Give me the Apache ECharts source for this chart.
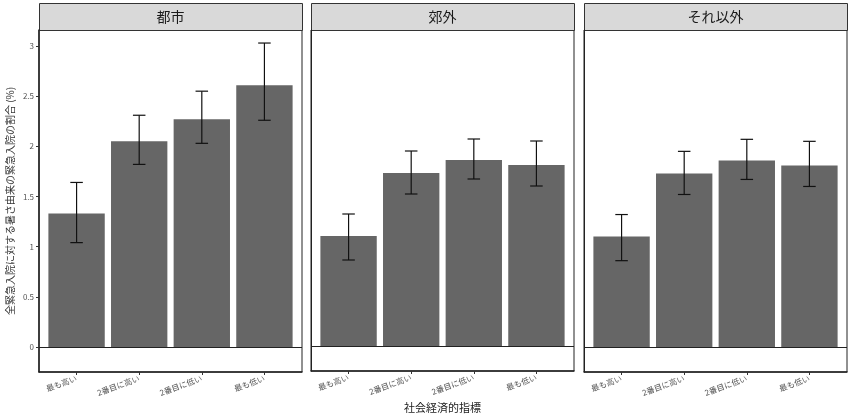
<html>
<head>
  <meta charset="utf-8">
  <title>heat admissions</title>
  <script src="https://cdn.jsdelivr.net/npm/echarts@6/dist/echarts.min.js"></script>
  <style>
    html, body { margin: 0; width: 100%; height: 100%; background: #fff; }
    #chart { width: 849px; height: 418px; }
  </style>
</head>
<body>
  <div id="chart"></div>
  <script>
    var categories = ['最も高い', '2番目に高い', '2番目に低い', '最も低い'];
    var panelNames = ['都市', '郊外', 'それ以外'];
    var yTicks = [0, 0.5, 1, 1.5, 2, 2.5, 3];

    // bar heights and 95% CI per panel
    var urbanVals = [1.33, 2.05, 2.27, 2.61];
    var urbanLow = [1.04, 1.82, 2.03, 2.26];
    var urbanHigh = [1.64, 2.31, 2.55, 3.03];
    var suburbVals = [1.10, 1.73, 1.86, 1.81];
    var suburbLow = [0.86, 1.52, 1.67, 1.60];
    var suburbHigh = [1.32, 1.95, 2.07, 2.05];
    var otherVals = [1.10, 1.73, 1.86, 1.81];
    var otherLow = [0.86, 1.52, 1.67, 1.60];
    var otherHigh = [1.32, 1.95, 2.07, 2.05];

    var vals = [urbanVals, suburbVals, otherVals];
    var lows = [urbanLow, suburbLow, otherLow];
    var highs = [urbanHigh, suburbHigh, otherHigh];

    var font = '"Noto Sans CJK JP", "Noto Sans", sans-serif';
    var panelLefts = [39, 311, 584];
    var panelW = 263, panelTop = 30, panelH = 342;

    var myChart = echarts.init(document.getElementById('chart'));

    var grids = [], xAxes = [], yAxes = [], series = [], graphics = [];
    var tickIdx = categories.map(function (c, i) { return i; });

    panelLefts.forEach(function (left, p) {
      grids.push({
        left: left, top: panelTop, width: panelW, height: panelH,
        show: true, borderColor: '#222', borderWidth: 1, backgroundColor: '#fff'
      });
      xAxes.push({
        type: 'value', gridIndex: p, min: -0.6, max: 3.6,
        splitLine: { show: false },
        axisLine: { show: true, onZero: false, lineStyle: { color: '#222', width: 1.5 } },
        axisTick: { show: true, customValues: tickIdx, length: 3, lineStyle: { color: '#333' } },
        axisLabel: {
          customValues: tickIdx, rotate: 20, margin: 6, fontSize: 8, color: '#555', fontFamily: font,
          formatter: function (v) { return categories[Math.round(v)]; }
        },
        name: p === 1 ? '社会経済的指標' : '',
        nameLocation: 'middle', nameGap: 31,
        nameTextStyle: { fontSize: 11, color: '#222', fontFamily: font }
      });
      yAxes.push({
        type: 'value', gridIndex: p, min: -0.25, max: 3.16,
        splitLine: { show: false },
        axisLine: { show: true, onZero: false, lineStyle: { color: '#222', width: p === 0 ? 1.5 : 1 } },
        axisTick: { show: p === 0, customValues: yTicks, length: 3, lineStyle: { color: '#333' } },
        axisLabel: {
          show: p === 0, customValues: yTicks, fontSize: 8, color: '#555', margin: 5, fontFamily: font
        },
        name: p === 0 ? '全緊急入院に対する暑さ由来の緊急入院の割合 (%)' : '',
        nameLocation: 'middle', nameRotate: 90, nameGap: 24,
        nameTextStyle: { fontSize: 10, color: '#333', fontFamily: font }
      });
      series.push({
        type: 'bar', xAxisIndex: p, yAxisIndex: p,
        barWidth: '90%',
        itemStyle: { color: '#666666' },
        data: vals[p].map(function (v, i) { return [i, v]; }),
        silent: true,
        markLine: {
          silent: true, symbol: 'none', label: { show: false },
          lineStyle: { color: '#222', width: 1, type: 'solid' },
          data: [{ yAxis: 0 }]
        }
      });
      series.push({
        type: 'custom', xAxisIndex: p, yAxisIndex: p, silent: true, z: 5,
        data: lows[p].map(function (lo, i) { return [i, lo, highs[p][i]]; }),
        renderItem: function (params, api) {
          var x = api.value(0);
          var a = api.coord([x, api.value(1)]);
          var b = api.coord([x, api.value(2)]);
          var hw = api.size([0.1, 0])[0];
          var st = { stroke: '#111', lineWidth: 1.2 };
          return {
            type: 'group',
            children: [
              { type: 'line', shape: { x1: a[0], y1: a[1], x2: b[0], y2: b[1] }, style: st },
              { type: 'line', shape: { x1: a[0] - hw, y1: a[1], x2: a[0] + hw, y2: a[1] }, style: st },
              { type: 'line', shape: { x1: b[0] - hw, y1: b[1], x2: b[0] + hw, y2: b[1] }, style: st }
            ]
          };
        }
      });
      graphics.push({
        type: 'rect', left: left, top: 3,
        shape: { width: panelW, height: panelTop - 3 },
        style: { fill: '#d9d9d9', stroke: '#333', lineWidth: 1 }
      });
      graphics.push({
        type: 'text', x: left + panelW / 2, y: 16.5,
        style: {
          text: panelNames[p], fill: '#1a1a1a', fontSize: 14, fontFamily: font,
          textAlign: 'center', textVerticalAlign: 'middle'
        }
      });
    });

    var option = {
      animation: false,
      grid: grids,
      xAxis: xAxes,
      yAxis: yAxes,
      series: series,
      graphic: graphics
    };
    myChart.setOption(option);
  </script>
</body>
</html>
